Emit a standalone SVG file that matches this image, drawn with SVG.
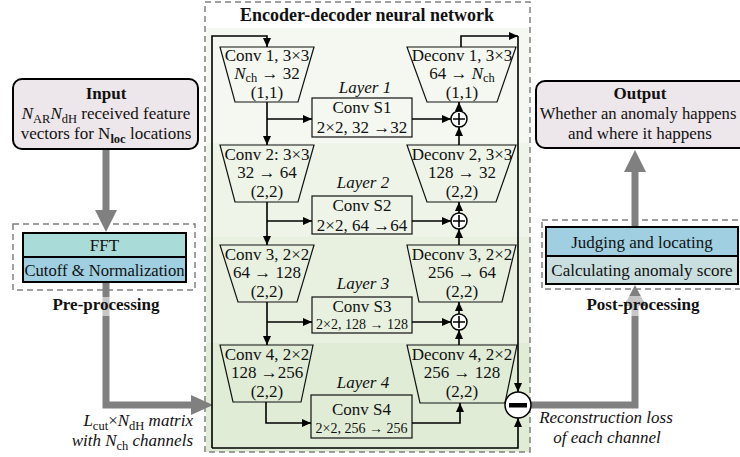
<svg xmlns="http://www.w3.org/2000/svg" width="740" height="457" viewBox="0 0 740 457" font-family="Liberation Serif" font-size="17">
<defs>
<marker id="ah" markerUnits="userSpaceOnUse" markerWidth="9" markerHeight="8" refX="9" refY="4" orient="auto">
<path d="M0,0 L9,4 L0,8 z" fill="#000"/>
</marker>
<style>
text{fill:#111;}
.b{font-weight:bold;}
.i{font-style:italic;}
.c{text-anchor:middle;}
.s{font-size:12.5px;}
.box{stroke:#000;stroke-width:2;}
.trap{fill:none;stroke:#111;stroke-width:1.2;}
.sbox{fill:none;stroke:#111;stroke-width:1.2;}
.dash{fill:none;stroke:#808080;stroke-width:1.5;stroke-dasharray:6 4;}
.ln{fill:none;stroke:#000;stroke-width:1.6;}
.lna{fill:none;stroke:#000;stroke-width:1.6;marker-end:url(#ah);}
.g{fill:none;stroke:#808080;stroke-width:7;}
.gh{fill:#808080;}
.op{fill:#fff;stroke:#000;stroke-width:1.5;}
</style>
</defs>

<g id="bands">
<rect x="206" y="28" width="324" height="115" fill="#f4f8f0"/>
<rect x="206" y="143" width="324" height="94" fill="#eef5e8"/>
<rect x="206" y="237" width="324" height="106" fill="#e8f1e0"/>
<rect x="206" y="343" width="324" height="109" fill="#e0ecd6"/>
</g>

<g id="encoder-frame">
<rect class="dash" x="205" y="2" width="325" height="450"/>
<text class="b c" x="367" y="21" font-size="18">Encoder-decoder neural network</text>
</g>

<g id="grey-connectors">
<line class="g" x1="106" y1="149" x2="106" y2="211"/>
<polygon class="gh" points="95,210 117,210 106,232"/>
<polyline class="g" points="106,282 106,405 192,405"/>
<polygon class="gh" points="191,395 191,415 213,405"/>
<polyline class="g" points="531,405 635,405 635,305"/>
<polygon class="gh" points="624,306 646,306 635,285"/>
<line class="g" x1="635" y1="227" x2="635" y2="171"/>
<polygon class="gh" points="624,172 646,172 635,150"/>
</g>

<g id="input">
<rect class="box" x="13" y="79" width="185" height="70" rx="9" fill="#ede6ea"/>
<text class="b c" x="106" y="99">Input</text>
<text class="c" x="106" y="119"><tspan class="i">N</tspan><tspan class="s" dy="3.5">AR</tspan><tspan class="i" dy="-3.5">N</tspan><tspan class="s" dy="3.5">dH</tspan><tspan dy="-3.5"> received feature</tspan></text>
<text class="c" x="106" y="139">vectors for N<tspan class="s b" dy="3.5">loc</tspan><tspan dy="-3.5"> locations</tspan></text>
</g>

<g id="pre-processing">
<rect class="dash" x="13" y="224" width="182" height="66"/>
<rect class="box" x="23" y="233" width="163" height="24" fill="#a9dcd9"/>
<rect class="box" x="23" y="257" width="163" height="25" fill="#9fcfe0"/>
<text class="c" x="104.5" y="251">FFT</text>
<text class="c" x="104.5" y="276" font-size="16.6">Cutoff &amp; Normalization</text>
<rect x="98" y="297" width="16" height="19" fill="#fff" opacity="0.55"/>
<text class="b c" x="106" y="310">Pre-processing</text>
</g>

<g id="matrix-label">
<text class="i" x="193" y="426" text-anchor="end">L<tspan class="s" font-style="normal" dy="3.5">cut</tspan><tspan dy="-3.5" font-style="normal">×</tspan>N<tspan class="s" font-style="normal" dy="3.5">dH</tspan><tspan dy="-3.5"> matrix</tspan></text>
<text class="i" x="193" y="446" text-anchor="end">with N<tspan class="s" font-style="normal" dy="3.5">ch</tspan><tspan dy="-3.5"> channels</tspan></text>
</g>

<g id="conv1">
<polygon class="trap" points="220,47 314,47 298,102 235,102"/>
<text class="c" x="267" y="61">Conv 1, 3×3</text>
<text class="c" x="267" y="79"><tspan class="i">N</tspan><tspan class="s" dy="3">ch</tspan><tspan dy="-3"> → 32</tspan></text>
<text class="c" x="267" y="98">(1,1)</text>
</g>
<g id="conv2">
<polygon class="trap" points="220,145 314,145 298,202 235,202"/>
<text class="c" x="267" y="160">Conv 2: 3×3</text>
<text class="c" x="267" y="178">32 → 64</text>
<text class="c" x="267" y="197">(2,2)</text>
</g>
<g id="conv3">
<polygon class="trap" points="220,245 314,245 297,302 238,302"/>
<text class="c" x="267" y="260">Conv 3, 2×2</text>
<text class="c" x="267" y="278">64 → 128</text>
<text class="c" x="267" y="297">(2,2)</text>
</g>
<g id="conv4">
<polygon class="trap" points="220,345 313,345 301,402 233,402"/>
<text class="c" x="267" y="360">Conv 4, 2×2</text>
<text class="c" x="267" y="378">128 →256</text>
<text class="c" x="267" y="397">(2,2)</text>
</g>

<g id="convS1">
<rect class="sbox" x="312" y="98" width="100" height="39"/>
<text class="c" x="362" y="113">Conv S1</text>
<text class="c" x="362" y="133">2×2, 32 →32</text>
</g>
<g id="convS2">
<rect class="sbox" x="312" y="196" width="100" height="38"/>
<text class="c" x="362" y="211">Conv S2</text>
<text class="c" x="362" y="231">2×2, 64 →64</text>
</g>
<g id="convS3">
<rect class="sbox" x="312" y="297" width="100" height="36"/>
<text class="c" x="362" y="312">Conv S3</text>
<text class="c" x="362" y="328.5" font-size="14">2×2, 128 → 128</text>
</g>
<g id="convS4">
<rect class="sbox" x="311" y="395" width="101" height="43"/>
<text class="c" x="361.5" y="415">Conv S4</text>
<text class="c" x="361.5" y="433" font-size="14">2×2, 256 → 256</text>
</g>

<g id="layer-labels">
<text class="i c" x="365" y="93">Layer 1</text>
<text class="i c" x="363" y="188">Layer 2</text>
<text class="i c" x="363" y="289">Layer 3</text>
<text class="i c" x="363" y="388">Layer 4</text>
</g>

<g id="deconv1">
<polygon class="trap" points="407,47 516,47 497,102 427,102"/>
<text class="c" x="462" y="61">Deconv 1, 3×3</text>
<text class="c" x="462" y="79">64 → <tspan class="i">N</tspan><tspan class="s" dy="3">ch</tspan></text>
<text class="c" x="462" y="98">(1,1)</text>
</g>
<g id="deconv2">
<polygon class="trap" points="407,145 516,145 496,202 427,202"/>
<text class="c" x="462" y="160">Deconv 2, 3×3</text>
<text class="c" x="462" y="178">128 → 32</text>
<text class="c" x="462" y="197">(2,2)</text>
</g>
<g id="deconv3">
<polygon class="trap" points="407,245 516,245 502,302 419,302"/>
<text class="c" x="462" y="260">Deconv 3, 2×2</text>
<text class="c" x="462" y="278">256 → 64</text>
<text class="c" x="462" y="297">(2,2)</text>
</g>
<g id="deconv4">
<polygon class="trap" points="407,345 517,345 505,403 420,403"/>
<text class="c" x="462" y="360">Deconv 4, 2×2</text>
<text class="c" x="462" y="378">256 → 128</text>
<text class="c" x="462" y="397">(2,2)</text>
</g>

<g id="connectors">
<polyline class="lna" points="212,448 212,36 267,36 267,47"/>
<polyline class="lna" points="461,47 461,36 518,36"/>
<line class="lna" x1="518" y1="36" x2="518" y2="392"/>
<polyline class="lna" points="212,448 518,448 518,418"/>
<line class="lna" x1="267" y1="102" x2="267" y2="145"/>
<line class="lna" x1="267" y1="119" x2="312" y2="119"/>
<line class="lna" x1="267" y1="202" x2="267" y2="245"/>
<line class="lna" x1="267" y1="221" x2="312" y2="221"/>
<line class="lna" x1="267" y1="302" x2="267" y2="345"/>
<line class="lna" x1="267" y1="322" x2="312" y2="322"/>
<polyline class="lna" points="266,402 266,423 311,423"/>
<line class="lna" x1="412" y1="119" x2="451" y2="119"/>
<line class="lna" x1="412" y1="221" x2="451" y2="221"/>
<line class="lna" x1="412" y1="322" x2="451" y2="322"/>
<polyline class="lna" points="412,423 460,423 460,403"/>
<line class="lna" x1="459" y1="111" x2="459" y2="102"/>
<line class="lna" x1="459" y1="145" x2="459" y2="127"/>
<line class="lna" x1="459" y1="213" x2="459" y2="202"/>
<line class="lna" x1="459" y1="245" x2="459" y2="229"/>
<line class="lna" x1="459" y1="314" x2="459" y2="302"/>
<line class="lna" x1="459" y1="345" x2="459" y2="330"/>
</g>

<g id="plus1">
<circle class="op" cx="459" cy="119" r="8"/>
<path class="ln" d="M453,119 H465 M459,113 V125"/>
</g>
<g id="plus2">
<circle class="op" cx="459" cy="221" r="8"/>
<path class="ln" d="M453,221 H465 M459,215 V227"/>
</g>
<g id="plus3">
<circle class="op" cx="459" cy="322" r="8"/>
<path class="ln" d="M453,322 H465 M459,316 V328"/>
</g>
<g id="minus">
<circle class="op" cx="518" cy="405" r="13"/>
<rect x="509" y="403" width="18" height="4.5" fill="#000"/>
</g>

<g id="recon-label">
<text class="i c" x="606" y="423">Reconstruction loss</text>
<text class="i c" x="607" y="443">of each channel</text>
</g>

<g id="post-processing">
<rect class="dash" x="542" y="220" width="205" height="69"/>
<rect class="box" x="546" y="227" width="192" height="29" fill="#9fcfe0"/>
<rect class="box" x="546" y="256" width="192" height="28" fill="#c9dede"/>
<text class="c" x="642" y="248">Judging and locating</text>
<text class="c" x="642" y="276">Calculating anomaly score</text>
<rect x="627" y="296" width="16" height="20" fill="#fff" opacity="0.55"/>
<text class="b c" x="643" y="310">Post-processing</text>
</g>

<g id="output">
<rect class="box" x="536" y="81" width="216" height="67" rx="9" fill="#ede6ea"/>
<text class="b c" x="640" y="99">Output</text>
<text class="c" x="638" y="119" font-size="16.6">Whether an anomaly happens</text>
<text class="c" x="640" y="139">and where it happens</text>
</g>
</svg>
